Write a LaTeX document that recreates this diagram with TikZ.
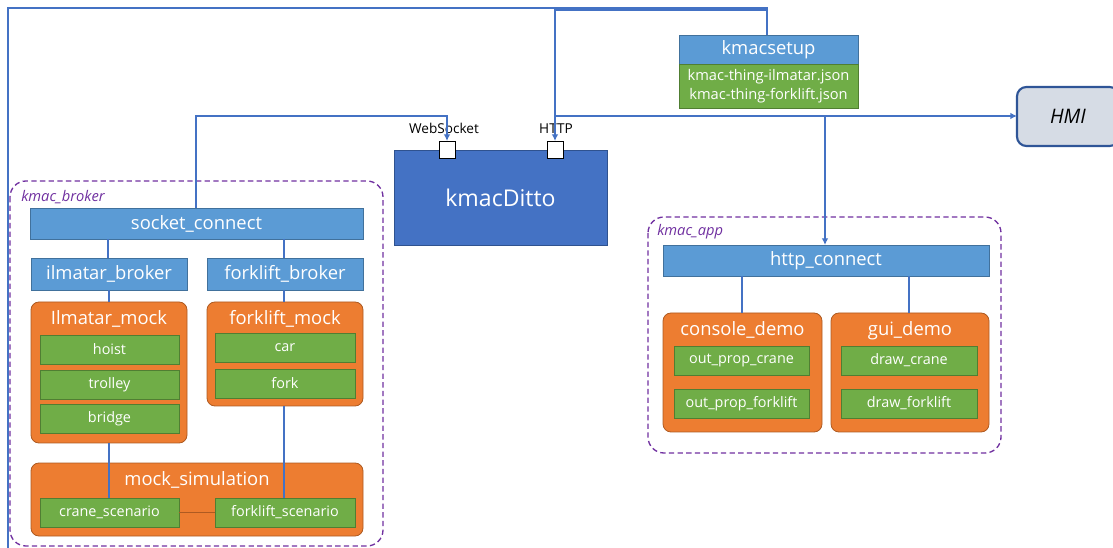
\documentclass[tikz,border=0pt]{standalone}
\usepackage{fontspec}
\setmainfont{Open Sans}
\usetikzlibrary{arrows.meta}
\definecolor{hdr}{HTML}{5B9BD5}
\definecolor{hdrb}{HTML}{41719C}
\definecolor{grn}{HTML}{70AD47}
\definecolor{grnb}{HTML}{507E32}
\definecolor{org}{HTML}{ED7D31}
\definecolor{orgb}{HTML}{AE5A21}
\definecolor{dit}{HTML}{4472C4}
\definecolor{ditb}{HTML}{2F528F}
\definecolor{con}{HTML}{4472C4}
\definecolor{grp}{HTML}{7030A0}
\definecolor{hmif}{HTML}{D6DCE5}
\definecolor{hmib}{HTML}{2F5597}
\newcommand\mybox[6]{\node[#1,minimum width={(#4-#2)*0.75pt},minimum height={(#5-#3)*0.75pt}] (#6) at ({(#2+#4)/2},{(#3+#5)/2})}
\tikzset{
  base/.style={inner sep=0pt,outer sep=0pt,line width=0.6pt,text=white},
  hdrbox/.style={base,fill=hdr,draw=hdrb,font=\fontsize{13.8}{15}\selectfont},
  grnbox/.style={base,fill=grn,draw=grnb,font=\fontsize{10.8}{12}\selectfont},
  orgbox/.style={base,fill=org,draw=orgb,rounded corners=6pt},
  orgtitle/.style={label={[anchor=north,yshift=-2.5pt,text=white,font=\fontsize{13.8}{15}\selectfont]north:#1}},
  port/.style={inner sep=0pt,outer sep=0pt,fill=white,draw=black,line width=0.6pt,minimum width=12pt,minimum height=12.75pt},
  conn/.style={draw=con,line width=1pt},
  arr/.style={conn,-{Latex[length=5pt,width=5pt]}},
  grpbox/.style={draw=grp,dashed,line width=1pt,rounded corners=12pt,dash pattern=on 4pt off 2.5pt},
  grplabel/.style={text=grp,font=\fontsize{11}{13}\selectfont\itshape,anchor=west,inner sep=0pt},
  small/.style={font=\fontsize{10.2}{12}\selectfont,inner sep=0pt}
}
\begin{document}
\begin{tikzpicture}[x=0.75pt,y=-0.75pt]
\useasboundingbox (0,0) rectangle (1113,548);
% groups
\draw[grpbox] (10,181) rectangle (383,546);
\node[grplabel] (gbl) at (21,197) {kmac\_broker};
\draw[grpbox] (648,217) rectangle (1001,453);
\node[grplabel] (gal) at (657,232) {kmac\_app};
% kmacsetup
\mybox{hdrbox}{679}{35}{858}{64}{ks} {kmacsetup};
\mybox{grnbox,align=center,font=\fontsize{11}{14.25}\selectfont}{679}{64}{858}{108}{ksj} {kmac-thing-ilmatar.json\\kmac-thing-forklift.json};
% HMI
\mybox{base,fill=hmif,draw=hmib,line width=1.6pt,rounded corners=7pt,text=black,font=\fontsize{15}{17}\selectfont\itshape}{1017}{87}{1119}{146}{hmi} {HMI};
% kmacDitto
\mybox{base,fill=dit,draw=ditb,font=\fontsize{17.3}{20}\selectfont}{394}{150}{607}{245}{ditto} {kmacDitto};
\node[port] (wsp) at (447,149.5) {};
\node[port] (hp) at (555,149.5) {};
\node[small,anchor=south] (wsl) at (444,134) {WebSocket};
\node[small,anchor=south] (hl) at (556,134) {HTTP};
% kmac_broker
\mybox{hdrbox}{30}{208}{363}{239}{sc} {socket\_connect};
\mybox{hdrbox}{31}{258}{187}{290}{ib} {ilmatar\_broker};
\mybox{hdrbox}{207}{258}{363}{290}{fb} {forklift\_broker};
\mybox{orgbox,orgtitle={Ilmatar\_mock}}{31}{302}{187}{443}{im} {};
\mybox{grnbox}{40}{335}{179}{364}{hoist} {hoist};
\mybox{grnbox}{40}{370}{179}{399}{trolley} {trolley};
\mybox{grnbox}{40}{404}{179}{433}{bridge} {bridge};
\mybox{orgbox,orgtitle={forklift\_mock}}{207}{302}{363}{406}{fm} {};
\mybox{grnbox}{215}{333}{355}{362}{car} {car};
\mybox{grnbox}{215}{369}{355}{398}{fork} {fork};
\mybox{orgbox,orgtitle={mock\_simulation}}{31}{463}{363}{536}{ms} {};
\mybox{grnbox}{40}{498}{179}{527}{cs} {crane\_scenario};
\mybox{grnbox}{215}{498}{355}{527}{fs} {forklift\_scenario};
% kmac_app
\mybox{hdrbox}{663}{245}{989}{276}{hc} {http\_connect};
\mybox{orgbox,orgtitle={console\_demo}}{663}{313}{822}{432}{cd} {};
\mybox{grnbox}{674}{346}{809}{375}{opc} {out\_prop\_crane};
\mybox{grnbox}{674}{389}{809}{418}{opf} {out\_prop\_forklift};
\mybox{orgbox,orgtitle={gui\_demo}}{831}{313}{989}{432}{gd} {};
\mybox{grnbox}{841}{346}{977}{375}{dc} {draw\_crane};
\mybox{grnbox}{841}{389}{977}{418}{df} {draw\_forklift};
% coordinates
\coordinate (wsbend) at (196,116);
\coordinate (ltop) at (8,8);
\coordinate (lbot) at (8,548);
\coordinate (rtop) at (767,8);
\coordinate (htop) at (767,10);
\coordinate (hj) at (555,116);
\coordinate (aj) at (825,116);
% connectors broker
\draw[conn] (sc.south -| 108,0) -- (ib.north -| 108,0);
\draw[conn] (sc.south -| 284,0) -- (fb.north -| 284,0);
\draw[conn] (ib.south -| 109,0) -- (im.north -| 109,0);
\draw[conn] (fb.south -| 284,0) -- (fm.north -| 284,0);
\draw[conn] (im.south -| 109,0) -- (cs.north -| 109,0);
\draw[conn] (fm.south -| 284,0) -- (fs.north -| 284,0);
\draw[line width=0.8pt,draw=orgb] (cs.east) -- (fs.west);
% connectors app
\draw[conn] (hc.south -| 742,0) -- (cd.north -| 742,0);
\draw[conn] (hc.south -| 909,0) -- (gd.north -| 909,0);
% top connectors
\draw[arr] (sc.north -| wsbend) -- (wsbend) -| (wsp.north);
\draw[conn] (lbot) -- (ltop) -- (rtop) -- (ks.north -| rtop);
\draw[arr] (ks.north -| htop) -- (htop) -| (hp.north);
\draw[arr] (hj) -- (hmi.west |- hj);
\draw[arr] (aj) -- (hc.north -| aj);
\end{tikzpicture}
\end{document}
